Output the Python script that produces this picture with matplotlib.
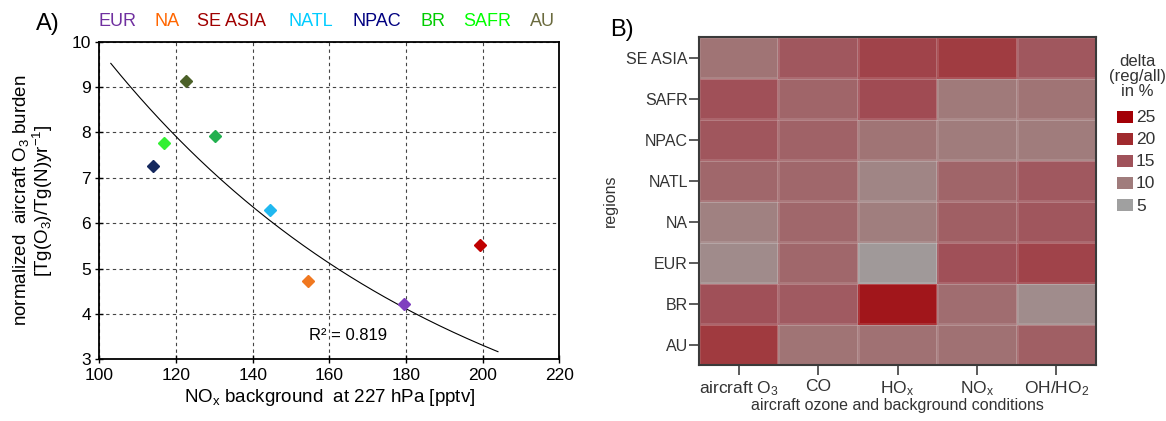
import numpy as np
import matplotlib
matplotlib.use("Agg")
import matplotlib.pyplot as plt
from matplotlib.colors import LinearSegmentedColormap
from matplotlib.patches import Rectangle

plt.rcParams['font.family'] = ['Liberation Sans', 'DejaVu Sans']
plt.rcParams['mathtext.fontset'] = 'custom'
plt.rcParams['mathtext.rm'] = 'Liberation Sans'
plt.rcParams['mathtext.it'] = 'Liberation Sans:italic'
plt.rcParams['mathtext.default'] = 'regular'

# ---------------- data: panel A ----------------
regions_a = ["EUR", "NA", "SE ASIA", "NATL", "NPAC", "BR", "SAFR", "AU"]
nox_bg = [179.6, 154.5, 199.3, 144.5, 114.0, 130.2, 116.9, 122.5]
o3_burden = [4.22, 4.72, 5.51, 6.30, 7.27, 7.93, 7.76, 9.13]
text_colors = ["#7030A0", "#FF6600", "#A00000", "#00CCFF", "#000080", "#00CC00", "#00FF00", "#6B6B3F"]
marker_colors = ["#7F3FBF", "#F07820", "#C00000", "#20B8F0", "#14285E", "#22B04F", "#33F033", "#4B6028"]
fit_exclude = ["SE ASIA"]
fit_range = (103.0, 204.0)
r2_label = "R² = 0.819"

# ---------------- data: panel B ----------------
regions_b = ["SE ASIA", "SAFR", "NPAC", "NATL", "NA", "EUR", "BR", "AU"]
quantities = ["aircraft O$_3$", "CO", "HO$_x$", "NO$_x$", "OH/HO$_2$"]
delta = np.array([
    [11.0, 14.4, 16.8, 17.8, 14.4],   # SE ASIA
    [15.3, 12.8, 15.8, 10.3, 11.0],   # SAFR
    [14.5, 13.1, 11.0, 10.0, 10.0],   # NPAC
    [12.5, 12.5,  8.8, 12.8, 14.3],   # NATL
    [ 9.3, 12.5,  9.8, 13.5, 14.5],   # NA
    [ 8.0, 12.5,  6.0, 15.3, 16.8],   # EUR
    [15.3, 14.0, 22.3, 11.8,  7.8],   # BR
    [18.0, 11.0, 11.3, 11.3, 13.5],   # AU
])
legend_levels = [25, 20, 15, 10, 5]

# ---------------- figure ----------------
W, H = 1166, 421
fig = plt.figure(figsize=(W / 100, H / 100), dpi=100)

def fx(px):
    return px / W

def fy(py):
    return 1 - py / H

# ---------- Panel A ----------
axA = fig.add_axes([fx(99.3), fy(359.3), fx(559.3) - fx(99.3), fy(41.7) - fy(359.3)])
axA.set_xlim(100, 220)
axA.set_ylim(3, 10)
axA.set_xticks(np.arange(100, 221, 20))
axA.set_yticks(np.arange(3, 11, 1))
axA.grid(True, color="#444444", linestyle=(0, (3, 3)), linewidth=0.8)
axA.set_axisbelow(True)
for s in axA.spines.values():
    s.set_linewidth(1.3)
    s.set_color("black")
axA.tick_params(direction="inout", length=6, width=1, labelsize=12.5, colors="black")
axA.tick_params(axis="x", pad=3)
axA.tick_params(axis="y", pad=3)

# exponential trend fit (excluding SE ASIA)
xs = np.array([x for x, r in zip(nox_bg, regions_a) if r not in fit_exclude])
ys = np.array([y for y, r in zip(o3_burden, regions_a) if r not in fit_exclude])
b, lna = np.polyfit(xs, np.log(ys), 1)
xf = np.linspace(fit_range[0], fit_range[1], 200)
axA.plot(xf, np.exp(lna + b * xf), color="black", linewidth=0.8, zorder=3)

for x, y, c in zip(nox_bg, o3_burden, marker_colors):
    axA.plot(x, y, marker="D", markersize=6.0, color=c, markeredgecolor=c,
             markeredgewidth=1.0, linestyle="none", zorder=4)

axA.text(165, 3.53, r2_label, fontsize=12, ha="center", va="center")

axA.set_xlabel("NO$_x$ background  at 227 hPa [pptv]", fontsize=13.5, labelpad=3)
axA.set_ylabel("normalized  aircraft O$_3$ burden\n[Tg(O$_3$)/Tg(N)yr$^{-1}$]",
               fontsize=13.5, labelpad=12, linespacing=1.0)

fig.text(fx(36), fy(24), "A)", fontsize=17, ha="left", va="center")
label_x = [99, 154, 197, 288, 352, 421, 463, 530]
for lx, r, c in zip(label_x, regions_a, text_colors):
    fig.text(fx(lx), fy(22), r, color=c, fontsize=13, ha="left", va="center")

# ---------- Panel B ----------
cmap = LinearSegmentedColormap.from_list(
    "delta", [(0.0, "#A0A0A0"), (0.25, "#A07C7C"), (0.5, "#A0525A"),
              (0.75, "#A02A2E"), (1.0, "#A30006")])
vmin, vmax = 5, 25

axB = fig.add_axes([fx(699), fy(365), fx(1096) - fx(699), fy(37.3) - fy(365)])
nrow, ncol = delta.shape
axB.pcolormesh(np.arange(ncol + 1), np.arange(nrow + 1), delta[::-1],
               cmap=cmap, vmin=vmin, vmax=vmax,
               edgecolors=(1, 1, 1, 0.12), linewidth=1.0)
axB.set_xlim(0, ncol)
axB.set_ylim(0, nrow)
axB.set_xticks(np.arange(ncol) + 0.5)
axB.set_xticklabels(quantities)
axB.set_yticks(np.arange(nrow) + 0.5)
axB.set_yticklabels(regions_b[::-1])
for s in axB.spines.values():
    s.set_linewidth(1.5)
    s.set_color("#3A3A3A")
axB.tick_params(axis="both", colors="#404040", labelcolor="#333333",
                length=7, width=1.2)
axB.tick_params(axis="x", pad=3, labelsize=12.5)
axB.tick_params(axis="y", pad=1, labelsize=11.5)
axB.set_xlabel("aircraft ozone and background conditions", fontsize=11.5,
               color="#333333", labelpad=0)
axB.set_ylabel("regions", fontsize=11.5, color="#333333", labelpad=6)

fig.text(fx(610), fy(30), "B)", fontsize=17, ha="left", va="center")

# legend
fig.text(fx(1137), fy(77), "delta\n(reg/all)\nin %", fontsize=12, color="#333333",
         ha="center", va="center", linespacing=1.0)
for i, lev in enumerate(legend_levels):
    cy = 117 + i * 22
    fig.patches.append(Rectangle((fx(1117), fy(cy + 6)), fx(16), fy(0) - fy(12),
                                 transform=fig.transFigure, facecolor=cmap((lev - vmin) / (vmax - vmin)),
                                 edgecolor="none"))
    fig.text(fx(1136), fy(cy + 1), str(lev), fontsize=12.5, color="#333333",
             ha="left", va="center")

fig.savefig("out.png", dpi=100)
